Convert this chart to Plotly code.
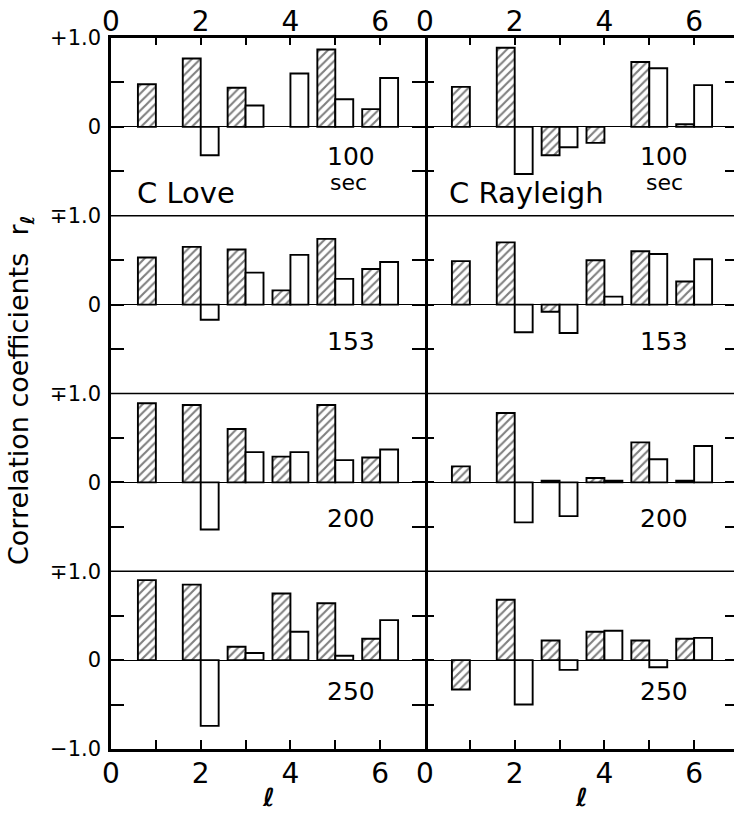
import plotly.graph_objects as go

# Spherical-harmonic degree of each pair of bars
degrees = [1, 2, 3, 4, 5, 6]
periods = ["100", "153", "200", "250"]
columns = ["C Love", "C Rayleigh"]

# Correlation coefficients r_l (hatched = first set, open = second set)
love_hatched_100 = [0.48, 0.77, 0.44, None, 0.87, 0.20]
love_open_100 = [None, -0.32, 0.24, 0.60, 0.31, 0.55]
rayleigh_hatched_100 = [0.45, 0.89, -0.32, -0.18, 0.73, 0.03]
rayleigh_open_100 = [None, -0.53, -0.23, None, 0.66, 0.47]

love_hatched_153 = [0.53, 0.65, 0.62, 0.16, 0.74, 0.40]
love_open_153 = [None, -0.17, 0.36, 0.56, 0.29, 0.48]
rayleigh_hatched_153 = [0.49, 0.70, -0.08, 0.50, 0.60, 0.26]
rayleigh_open_153 = [None, -0.31, -0.32, 0.09, 0.57, 0.51]

love_hatched_200 = [0.89, 0.87, 0.60, 0.29, 0.87, 0.28]
love_open_200 = [None, -0.53, 0.34, 0.34, 0.25, 0.37]
rayleigh_hatched_200 = [0.18, 0.78, 0.02, 0.05, 0.45, 0.02]
rayleigh_open_200 = [None, -0.45, -0.38, 0.02, 0.26, 0.41]

love_hatched_250 = [0.90, 0.85, 0.15, 0.75, 0.64, 0.24]
love_open_250 = [None, -0.74, 0.08, 0.32, 0.05, 0.45]
rayleigh_hatched_250 = [-0.33, 0.68, 0.22, 0.32, 0.22, 0.24]
rayleigh_open_250 = [None, -0.50, -0.11, 0.33, -0.08, 0.25]

x_tick_vals = [0, 2, 4, 6]
x_tick_text = ["0", "2", "4", "6"]
x_minor_vals = [1, 3, 5, 7]
y_minor_vals = [-0.5, 0.5]

panels = [
    [(love_hatched_100, love_open_100), (rayleigh_hatched_100, rayleigh_open_100)],
    [(love_hatched_153, love_open_153), (rayleigh_hatched_153, rayleigh_open_153)],
    [(love_hatched_200, love_open_200), (rayleigh_hatched_200, rayleigh_open_200)],
    [(love_hatched_250, love_open_250), (rayleigh_hatched_250, rayleigh_open_250)],
]

W, H = 734, 815
FONT = "DejaVu Sans"
LEFT, DIV, RIGHT = 111, 425, 734
TOP, PANEL_H = 38, 177.75
UNIT = (DIV - LEFT) / 7.0
right_span = (RIGHT - DIV) / UNIT


def fx(px):
    return px / W


def fy(py):
    return 1 - py / H


fig = go.Figure()
layout = dict(
    width=W, height=H, margin=dict(l=0, r=0, t=0, b=0, autoexpand=False),
    paper_bgcolor="white", plot_bgcolor="white",
    barmode="overlay", showlegend=False,
    font=dict(family=FONT, color="black"),
)

hatch = dict(shape="/", fgcolor="black", bgcolor="white", size=6, solidity=0.35)

for r in range(4):
    top_px = TOP + r * PANEL_H
    bot_px = top_px + PANEL_H
    for c in range(2):
        k = r * 2 + c + 1
        xa = "x" if k == 1 else f"x{k}"
        ya = "y" if k == 1 else f"y{k}"
        hatched, opened = panels[r][c]
        fig.add_bar(
            x=[d - 0.2 for d in degrees], y=hatched, width=0.4,
            xaxis=xa, yaxis=ya,
            marker=dict(color="white", line=dict(color="black", width=1.9),
                        pattern=hatch),
        )
        fig.add_bar(
            x=[d + 0.2 for d in degrees], y=opened, width=0.4,
            xaxis=xa, yaxis=ya,
            marker=dict(color="white", line=dict(color="black", width=1.9)),
        )

        if c == 0:
            xdom = [fx(LEFT), fx(DIV)]
            xrange = [0, 7.0]
        else:
            xdom = [fx(DIV), 1.0]
            xrange = [0, right_span]

        xax = dict(domain=xdom, range=xrange, anchor=ya, showgrid=False,
                   zeroline=False, fixedrange=True, automargin=False)
        if r == 0 or r == 3:
            tl = 7 if r == 0 else 9
            xax.update(side="top" if r == 0 else "bottom", showline=True,
                       linecolor="black", linewidth=3, ticks="inside",
                       ticklen=tl, tickwidth=1.5, tickcolor="black",
                       tickvals=x_tick_vals, ticktext=x_tick_text,
                       tickfont=dict(size=28),
                       ticklabelstandoff=-7 if r == 0 else -3,
                       minor=dict(tickvals=x_minor_vals, ticks="inside",
                                  ticklen=tl, tickwidth=1.5,
                                  tickcolor="black", showgrid=False))
        else:
            xax.update(visible=False)
        layout["xaxis" if k == 1 else f"xaxis{k}"] = xax

        if r == 3:
            yvals, ytext = [-1, 0, 1], ["\u22121.0", "0", "\u22131.0"]
        elif r == 0:
            yvals, ytext = [0, 1], ["0", "+1.0"]
        else:
            yvals, ytext = [0, 1], ["0", "\u22131.0"]

        yax = dict(domain=[fy(bot_px), fy(top_px)], range=[-1, 1], anchor=xa,
                   showgrid=False, zeroline=True, zerolinecolor="black",
                   zerolinewidth=1.3, tickvals=yvals, ticktext=ytext,
                   ticks="inside", tickwidth=1.5, tickcolor="black",
                   mirror="ticks", fixedrange=True, automargin=False)
        if c == 0:
            yax.update(showline=True, linecolor="black", linewidth=2.5,
                       ticklen=13, tickfont=dict(size=21),
                       ticklabelstandoff=3,
                       minor=dict(tickvals=y_minor_vals, ticks="inside",
                                  ticklen=13, tickwidth=1.5,
                                  tickcolor="black", showgrid=False))
        else:
            yax.update(showline=False, ticklen=9, showticklabels=False,
                       minor=dict(tickvals=y_minor_vals, ticks="inside",
                                  ticklen=9, tickwidth=1.5,
                                  tickcolor="black", showgrid=False))
        layout["yaxis" if k == 1 else f"yaxis{k}"] = yax

fig.update_layout(**layout)

# Boundaries between the stacked period panels
for r in range(1, 4):
    yb = fy(TOP + r * PANEL_H)
    fig.add_shape(type="line", xref="paper", yref="paper",
                  x0=fx(LEFT), x1=1.0, y0=yb, y1=yb,
                  line=dict(color="black", width=1.3))

# Column titles
fig.add_annotation(text=columns[0], xref="paper", yref="paper",
                   x=fx(135), y=fy(193), xanchor="left", yanchor="middle",
                   showarrow=False, font=dict(size=29))
fig.add_annotation(text=columns[1], xref="paper", yref="paper",
                   x=fx(447), y=fy(193), xanchor="left", yanchor="middle",
                   showarrow=False, font=dict(size=29))

# Period labels inside each panel
period_y = [-0.33, -0.42, -0.41, -0.35]
for r in range(4):
    for c in range(2):
        k = r * 2 + c + 1
        xa = "x" if k == 1 else f"x{k}"
        ya = "y" if k == 1 else f"y{k}"
        fig.add_annotation(text=periods[r], xref=xa, yref=ya,
                           x=5.35 if c == 0 else 5.33, y=period_y[r],
                           xanchor="center", yanchor="middle",
                           showarrow=False, font=dict(size=25))
        if r == 0:
            fig.add_annotation(text="sec", xref=xa, yref=ya,
                               x=5.3 if c == 0 else 5.33, y=-0.63,
                               xanchor="center", yanchor="middle",
                               showarrow=False, font=dict(size=22))

# Axis titles
fig.add_annotation(text="Correlation coefficients  r<sub><b><i>\u2113</i></b></sub>",
                   xref="paper", yref="paper", x=fx(20), y=fy(391),
                   xanchor="center", yanchor="middle",
                   textangle=-90, showarrow=False, font=dict(size=27))
for cx in [(LEFT + DIV) / 2, (DIV + RIGHT + 4) / 2]:
    fig.add_annotation(text="<b><i>\u2113</i></b>", xref="paper", yref="paper",
                       x=fx(cx), y=fy(797), xanchor="center", yanchor="middle",
                       showarrow=False, font=dict(size=25))

fig.write_html("out.html")
